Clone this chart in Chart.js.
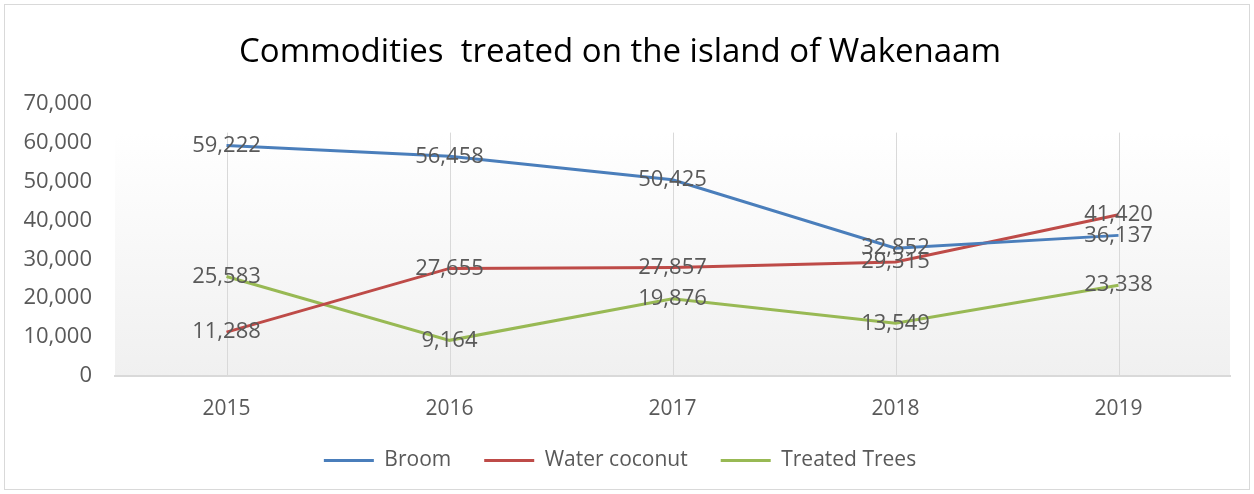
<!DOCTYPE html>
<html>
<head>
<meta charset="utf-8">
<title>Commodities treated on the island of Wakenaam</title>
<script src="https://cdn.jsdelivr.net/npm/chart.js@4.4.1/dist/chart.umd.min.js"></script>
<style>
  html, body { margin: 0; padding: 0; background: #fff; }
  #wrap { width: 1254px; height: 494px; }
</style>
</head>
<body>
<div id="wrap"><canvas id="myChart" width="1254" height="494"></canvas></div>
<script>
// data
const years = ["2015", "2016", "2017", "2018", "2019"];
const broom = [59222, 56458, 50425, 32852, 36137];
const waterCoconut = [11288, 27655, 27857, 29315, 41420];
const treatedTrees = [25583, 9164, 19876, 13549, 23338];
const yTicks = [0, 10000, 20000, 30000, 40000, 50000, 60000, 70000];

const font = "'Open Sans', 'Noto Sans', sans-serif";
const grey = "#595959";

// frame, gradient plot area and vertical grid lines
const backdrop = {
  id: "backdrop",
  beforeDraw(chart) {
    const ctx = chart.ctx;
    const area = chart.chartArea;
    ctx.save();
    ctx.fillStyle = "#fff";
    ctx.fillRect(0, 0, chart.width, chart.height);
    ctx.strokeStyle = "#d9d9d9";
    ctx.lineWidth = 1;
    ctx.strokeRect(4.5, 4.5, chart.width - 9, chart.height - 9);

    const top = area.top + 29;
    const grad = ctx.createLinearGradient(0, top, 0, area.bottom);
    grad.addColorStop(0, "#ffffff");
    grad.addColorStop(1, "#f0f0f0");
    ctx.fillStyle = grad;
    ctx.fillRect(area.left, top, area.right - area.left, area.bottom - top);

    const x = chart.scales.x;
    ctx.strokeStyle = "#d9d9d9";
    years.forEach((y, i) => {
      const px = Math.round(x.getPixelForValue(i)) + 0.5;
      ctx.beginPath();
      ctx.moveTo(px, top);
      ctx.lineTo(px, area.bottom);
      ctx.stroke();
    });
    ctx.restore();
  }
};

// value labels centred on each point
const valueLabels = {
  id: "valueLabels",
  afterDatasetsDraw(chart) {
    const ctx = chart.ctx;
    ctx.save();
    ctx.font = "22px " + font;
    ctx.fillStyle = grey;
    ctx.textAlign = "center";
    ctx.textBaseline = "middle";
    chart.data.datasets.forEach((ds, i) => {
      chart.getDatasetMeta(i).data.forEach((pt, j) => {
        ctx.fillText(ds.data[j].toLocaleString("en-US"), pt.x, pt.y);
      });
    });
    ctx.restore();
  }
};

function line(label, data, color) {
  return {
    label: label,
    data: data,
    borderColor: color,
    backgroundColor: color,
    borderWidth: 3,
    pointRadius: 0,
    tension: 0,
    fill: false
  };
}

new Chart(document.getElementById("myChart"), {
  type: "line",
  data: {
    labels: years,
    datasets: [
      line("Broom", broom, "#4a7ebb"),
      line("Water coconut", waterCoconut, "#be4b48"),
      line("Treated Trees", treatedTrees, "#98b954")
    ]
  },
  options: {
    responsive: false,
    animation: false,
    layout: { padding: { left: 10, right: 24, top: 0, bottom: 13 } },
    plugins: {
      title: {
        display: true,
        text: "Commodities  treated on the island of Wakenaam",
        color: "#000",
        font: { family: font, size: 33, weight: "normal" },
        padding: { top: 33, bottom: 31 }
      },
      legend: {
        position: "bottom",
        labels: {
          color: grey,
          font: { family: font, size: 21 },
          boxWidth: 50,
          boxHeight: 3,
          padding: 33,
          generateLabels(chart) {
            return Chart.defaults.plugins.legend.labels.generateLabels(chart)
              .map(item => Object.assign(item, { lineWidth: 0 }));
          }
        }
      },
      tooltip: { enabled: false }
    },
    scales: {
      x: {
        offset: true,
        grid: { display: false },
        border: { display: true, color: "#d9d9d9", width: 2 },
        ticks: { color: grey, font: { family: font, size: 21 }, padding: 12 },
        afterFit(scale) {
          scale.height = 41;
        }
      },
      y: {
        min: 0,
        max: 70000,
        afterBuildTicks(scale) {
          scale.ticks = yTicks.map(v => ({ value: v }));
        },
        afterFit(scale) {
          scale.width = 105;
        },
        grid: { display: false },
        border: { display: false },
        ticks: {
          color: grey,
          font: { family: font, size: 22 },
          padding: 15,
          callback: v => v.toLocaleString("en-US")
        }
      }
    }
  },
  plugins: [backdrop, valueLabels]
});
</script>
</body>
</html>
